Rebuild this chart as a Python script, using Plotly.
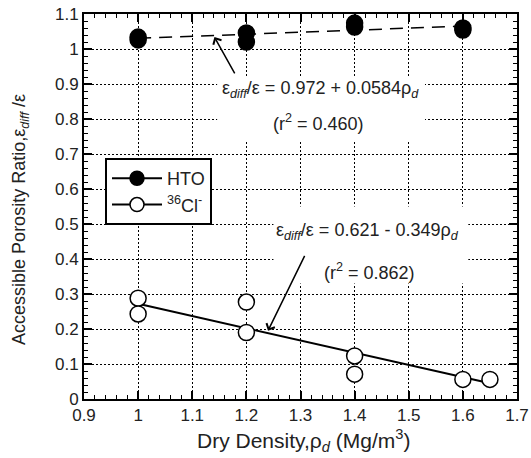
import plotly.graph_objects as go

# ---- data ----
hto_x = [1.0, 1.0, 1.2, 1.2, 1.4, 1.4, 1.6, 1.6]
hto_y = [1.034, 1.026, 1.046, 1.020, 1.074, 1.063, 1.060, 1.054]
cl_x = [1.0, 1.0, 1.2, 1.2, 1.4, 1.4, 1.6, 1.65]
cl_y = [0.288, 0.243, 0.277, 0.190, 0.123, 0.071, 0.056, 0.056]

hto_fit = (0.972, 0.0584)   # intercept, slope
hto_fit_range = [1.0, 1.6]
cl_fit = (0.621, -0.349)
cl_fit_range = [1.0, 1.65]

x_ticks = [0.9, 1.0, 1.1, 1.2, 1.3, 1.4, 1.5, 1.6, 1.7]
y_ticks = [0, 0.1, 0.2, 0.3, 0.4, 0.5, 0.6, 0.7, 0.8, 0.9, 1.0, 1.1]

FONT = "Liberation Sans, Arial, sans-serif"
TXT = "#222"

fig = go.Figure()

# fit lines
fig.add_trace(go.Scatter(
    x=hto_fit_range, y=[hto_fit[0] + hto_fit[1] * v for v in hto_fit_range],
    mode="lines", line=dict(color="black", width=1.5, dash="13px,8px"),
    showlegend=False, hoverinfo="skip"))
fig.add_trace(go.Scatter(
    x=cl_fit_range, y=[cl_fit[0] + cl_fit[1] * v for v in cl_fit_range],
    mode="lines", line=dict(color="black", width=2),
    showlegend=False, hoverinfo="skip"))

# data points
fig.add_trace(go.Scatter(
    x=hto_x, y=hto_y, mode="markers", showlegend=False,
    marker=dict(size=16, color="black", line=dict(color="black", width=1.5))))
fig.add_trace(go.Scatter(
    x=cl_x, y=cl_y, mode="markers", showlegend=False,
    marker=dict(size=16, color="white", line=dict(color="black", width=1.5))))

# legend entries
fig.add_trace(go.Scatter(
    x=[None], y=[None], mode="lines+markers", name="HTO",
    line=dict(color="black", width=2),
    marker=dict(size=14, color="black", line=dict(color="black", width=1.5))))
fig.add_trace(go.Scatter(
    x=[None], y=[None], mode="lines+markers", name="<sup>36</sup>Cl<sup>-</sup>",
    line=dict(color="black", width=2),
    marker=dict(size=14, color="white", line=dict(color="black", width=1.5))))

# white boxes behind equation text (cover grid)
for (x0, x1, y0, y1) in [(1.146, 1.53, 0.74, 0.92), (1.25, 1.61, 0.33, 0.55)]:
    fig.add_shape(type="rect", xref="x", yref="y", x0=x0, x1=x1, y0=y0, y1=y1,
                  fillcolor="white", line=dict(width=0), layer="between")

eq_font = dict(family=FONT, size=18, color=TXT)
fig.add_annotation(x=1.337, y=0.883, xref="x", yref="y", showarrow=False,
                   text="ε<sub><i>diff</i></sub>/ε = 0.972 + 0.0584ρ<sub><i>d</i></sub>",
                   font=eq_font)
fig.add_annotation(x=1.333, y=0.791, xref="x", yref="y", showarrow=False,
                   text="(r<sup>2</sup> = 0.460)", font=eq_font)
fig.add_annotation(x=1.424, y=0.478, xref="x", yref="y", showarrow=False,
                   text="ε<sub><i>diff</i></sub>/ε = 0.621 - 0.349ρ<sub><i>d</i></sub>",
                   font=eq_font)
fig.add_annotation(x=1.428, y=0.363, xref="x", yref="y", showarrow=False,
                   text="(r<sup>2</sup> = 0.862)", font=eq_font)

# arrows
fig.add_annotation(x=1.141, y=1.034, ax=1.18, ay=0.926, xref="x", yref="y",
                   axref="x", ayref="y", text="", showarrow=True,
                   arrowhead=4, arrowsize=1.2, arrowwidth=1.5, arrowcolor="black")
fig.add_annotation(x=1.24, y=0.195, ax=1.309, ay=0.413, xref="x", yref="y",
                   axref="x", ayref="y", text="", showarrow=True,
                   arrowhead=4, arrowsize=1.2, arrowwidth=1.5, arrowcolor="black")

# axis titles as annotations
fig.add_annotation(x=0.508, y=-0.1065, xref="paper", yref="paper", showarrow=False,
                   text="Dry Density,ρ<sub><i>d</i></sub> (Mg/m<sup>3</sup>)",
                   font=dict(family=FONT, size=21, color=TXT),
                   xanchor="center", yanchor="middle")
fig.add_annotation(x=-0.148, y=0.4675, xref="paper", yref="paper", showarrow=False,
                   text="Accessible Porosity Ratio,ε<sub><i>diff</i></sub> /ε",
                   font=dict(family=FONT, size=18, color=TXT), textangle=-90,
                   xanchor="center", yanchor="middle")

axis_common = dict(
    showline=True, linecolor="black", linewidth=2, mirror="ticks",
    ticks="inside", ticklen=8, tickwidth=1.5, tickcolor="black",
    showgrid=True, gridcolor="black", gridwidth=1.2, griddash="2px,2px",
    zeroline=False, automargin=False,
    tickfont=dict(family=FONT, size=17, color=TXT),
    minor=dict(dtick=0.02, ticks="inside", ticklen=4, tickcolor="black", tickwidth=1, showgrid=False),
)

fig.update_xaxes(range=[0.9, 1.7], tickvals=x_ticks,
                 ticktext=[f"{v:g}" for v in x_ticks], **axis_common)
fig.update_yaxes(range=[0, 1.1], tickvals=y_ticks,
                 ticktext=[f"{v:g}" for v in y_ticks], **axis_common)

fig.update_layout(
    width=531, height=458,
    margin=dict(l=84, r=14, t=14, b=59),
    plot_bgcolor="white", paper_bgcolor="white",
    font=dict(family=FONT, size=16, color="black"),
    legend=dict(x=0.0485, y=0.626, xanchor="left", yanchor="top",
                bgcolor="white", bordercolor="black", borderwidth=2,
                font=dict(family=FONT, size=18, color=TXT),
                itemwidth=50, tracegroupgap=0),
)

fig.write_html("out.html")
